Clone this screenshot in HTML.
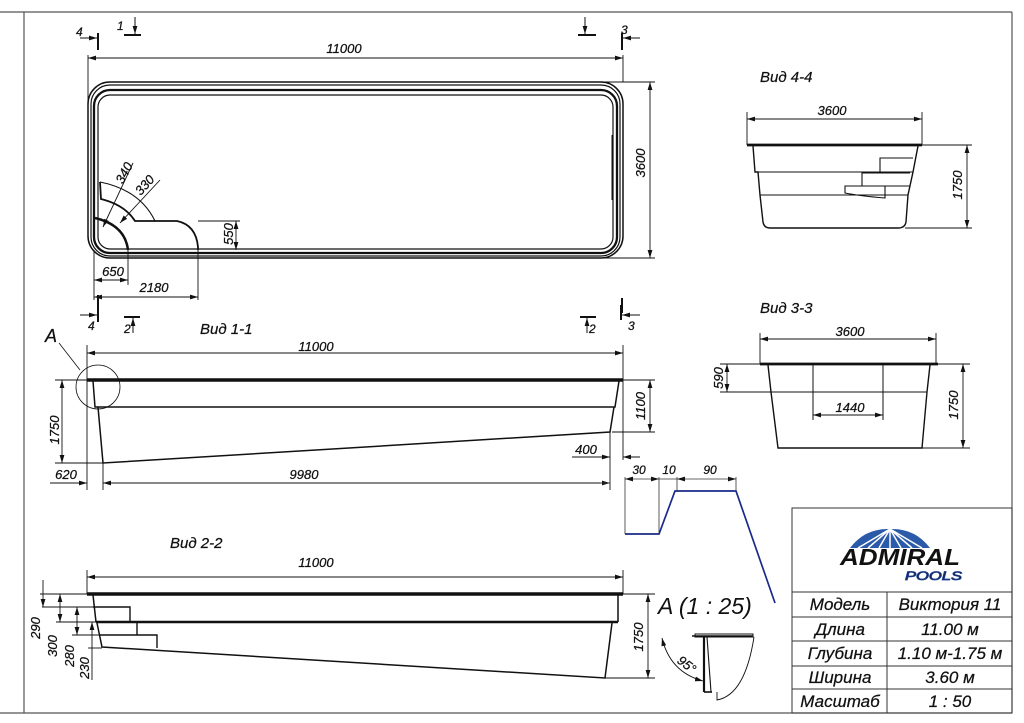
<!DOCTYPE html>
<html><head><meta charset="utf-8"><style>
html,body{margin:0;padding:0;background:#fff;}
svg{display:block;}
text{font-family:"Liberation Sans",sans-serif;font-style:italic;fill:#111;}
.d text{stroke:#111;stroke-width:0.25;}
</style></head><body>
<svg width="1024" height="723" viewBox="0 0 1024 723" xmlns="http://www.w3.org/2000/svg">
<defs>
<marker id="a" viewBox="0 0 10 6" refX="10" refY="3" markerWidth="8" markerHeight="5" orient="auto-start-reverse" markerUnits="userSpaceOnUse"><path d="M0,0L10,3L0,6z" fill="#111"/></marker>
</defs>
<rect x="0" y="0" width="1024" height="723" fill="#fff"/>
<g stroke="#555" stroke-width="1.2" fill="none">
<line x1="0" y1="12" x2="1012" y2="12"/>
<line x1="24" y1="12" x2="24" y2="713"/>
<line x1="1012" y1="12" x2="1012" y2="713"/>
<line x1="0" y1="713" x2="1012" y2="713"/>
</g>

<!-- ===== PLAN ===== -->
<g fill="none" stroke="#111">
<rect x="88" y="82" width="535" height="176" rx="22" stroke-width="1.5"/>
<rect x="91" y="85" width="529" height="171" rx="19" stroke-width="1.2"/>
<rect x="94" y="90" width="523" height="163" rx="16" stroke-width="2.3"/>
<rect x="98" y="95" width="515" height="154" rx="12" stroke-width="1.2"/>
<path d="M100,182 L101,199 Q125,205 135,221 L177,221 Q196,225 198,247 L198,250" stroke-width="1.8"/>
<path d="M100,182 Q140,190 155,221" stroke-width="1.1"/>
<path d="M95,218 Q125,225 128,250" stroke-width="2.5"/>
<line x1="612" y1="135" x2="612" y2="200" stroke-width="1"/>
</g>
<g stroke="#111" stroke-width="0.9" fill="none">
<line x1="88" y1="58" x2="623" y2="58" marker-start="url(#a)" marker-end="url(#a)"/>
<line x1="88" y1="55" x2="88" y2="150"/><line x1="623" y1="55" x2="623" y2="82"/>
<line x1="650" y1="82" x2="650" y2="258" marker-start="url(#a)" marker-end="url(#a)"/>
<line x1="600" y1="82" x2="655" y2="82"/><line x1="600" y1="258" x2="655" y2="258"/>
<line x1="103" y1="227" x2="133" y2="163" marker-start="url(#a)"/>
<line x1="120" y1="223" x2="160" y2="180" marker-start="url(#a)"/>
<line x1="198" y1="221" x2="240" y2="221"/>
<line x1="236" y1="221" x2="236" y2="250" marker-start="url(#a)" marker-end="url(#a)"/>
<line x1="94" y1="250" x2="94" y2="300"/><line x1="128" y1="250" x2="128" y2="285"/><line x1="198" y1="250" x2="198" y2="300"/>
<line x1="94" y1="280" x2="128" y2="280" marker-start="url(#a)" marker-end="url(#a)"/>
<line x1="94" y1="297" x2="198" y2="297" marker-start="url(#a)" marker-end="url(#a)"/>
</g>
<g class="d" font-size="13">
<text x="344" y="53" text-anchor="middle">11000</text>
<text transform="translate(645,163) rotate(-90)" text-anchor="middle">3600</text>
<text transform="translate(128,175) rotate(-62)" text-anchor="middle">340</text>
<text transform="translate(148,188) rotate(-48)" text-anchor="middle">330</text>
<text transform="translate(233,234) rotate(-90)" text-anchor="middle">550</text>
<text x="113" y="276" text-anchor="middle">650</text>
<text x="154" y="292" text-anchor="middle">2180</text>
</g>
<g stroke="#111" fill="none">
<line x1="98" y1="33" x2="98" y2="50" stroke-width="2"/>
<line x1="80" y1="38" x2="97" y2="38" stroke-width="1" marker-end="url(#a)"/>
<line x1="124" y1="35" x2="141" y2="35" stroke-width="2"/>
<line x1="135" y1="17" x2="135" y2="34" stroke-width="1" marker-end="url(#a)"/>
<line x1="578" y1="35" x2="596" y2="35" stroke-width="2"/>
<line x1="585" y1="17" x2="585" y2="34" stroke-width="1" marker-end="url(#a)"/>
<line x1="622" y1="33" x2="622" y2="50" stroke-width="2"/>
<line x1="640" y1="38" x2="623" y2="38" stroke-width="1" marker-end="url(#a)"/>
<line x1="98" y1="295" x2="98" y2="310" stroke-width="2"/>
<line x1="622" y1="298" x2="622" y2="313" stroke-width="2"/>
</g>
<g class="d" font-size="12"><text x="76" y="36">4</text><text x="117" y="30">1</text><text x="621" y="34">3</text></g>

<!-- ===== VID 1-1 ===== -->
<g stroke="#111" fill="none">
<line x1="98" y1="308" x2="98" y2="322" stroke-width="2"/>
<line x1="80" y1="315" x2="97" y2="315" stroke-width="1" marker-end="url(#a)"/>
<line x1="124" y1="317" x2="140" y2="317" stroke-width="2"/>
<line x1="133" y1="333" x2="133" y2="318" stroke-width="1" marker-end="url(#a)"/>
<line x1="580" y1="317" x2="596" y2="317" stroke-width="2"/>
<line x1="587" y1="333" x2="587" y2="318" stroke-width="1" marker-end="url(#a)"/>
<line x1="621" y1="305" x2="621" y2="320" stroke-width="2"/>
<line x1="640" y1="315" x2="622" y2="315" stroke-width="1" marker-end="url(#a)"/>
<line x1="87" y1="380" x2="623" y2="380" stroke-width="3.5"/>
<path d="M93,381 L95,407 L615,407 L619,381" stroke-width="1.5"/>
<path d="M98,407 L103,463 L610,432 L614,407" stroke-width="1.5"/>
<circle cx="98" cy="387" r="22" stroke-width="0.8"/>
<line x1="59" y1="343" x2="80" y2="370" stroke-width="0.8"/>
</g>
<g stroke="#111" stroke-width="0.9" fill="none">
<line x1="87" y1="345" x2="87" y2="490"/><line x1="623" y1="345" x2="623" y2="460"/>
<line x1="87" y1="353" x2="623" y2="353" marker-start="url(#a)" marker-end="url(#a)"/>
<line x1="620" y1="380" x2="655" y2="380"/><line x1="612" y1="432" x2="655" y2="432"/>
<line x1="650" y1="380" x2="650" y2="432" marker-start="url(#a)" marker-end="url(#a)"/>
<line x1="55" y1="380" x2="87" y2="380"/><line x1="55" y1="463" x2="103" y2="463"/>
<line x1="62" y1="380" x2="62" y2="463" marker-start="url(#a)" marker-end="url(#a)"/>
<line x1="103" y1="463" x2="103" y2="490"/><line x1="610" y1="432" x2="610" y2="490"/>
<line x1="103" y1="483" x2="610" y2="483" marker-start="url(#a)" marker-end="url(#a)"/>
<line x1="50" y1="483" x2="87" y2="483" marker-end="url(#a)"/>
<line x1="572" y1="457" x2="610" y2="457" marker-end="url(#a)"/>
<line x1="640" y1="457" x2="623" y2="457" marker-end="url(#a)"/>
</g>
<g class="d" font-size="13">
<text x="200" y="334" font-size="15">Вид 1-1</text>
<text x="45" y="342" font-size="18">A</text>
<text x="316" y="351" text-anchor="middle">11000</text>
<text transform="translate(645,406) rotate(-90)" text-anchor="middle">1100</text>
<text transform="translate(59,430) rotate(-90)" text-anchor="middle">1750</text>
<text x="586" y="454" text-anchor="middle">400</text>
<text x="304" y="479" text-anchor="middle">9980</text>
<text x="66" y="479" text-anchor="middle">620</text>
<text x="88" y="330" font-size="12">4</text><text x="124" y="333" font-size="12">2</text>
<text x="589" y="333" font-size="12">2</text><text x="628" y="330" font-size="12">3</text>
</g>

<!-- ===== VID 2-2 ===== -->
<g stroke="#111" fill="none">
<line x1="87" y1="594" x2="623" y2="594" stroke-width="3.5"/>
<path d="M93,595 L96,622" stroke-width="1.5"/>
<path d="M93,607 L130,607 L130,622" stroke-width="1.4"/>
<line x1="96" y1="622" x2="618" y2="622" stroke-width="2.5"/>
<path d="M618,595 L618,622" stroke-width="1.5"/>
<path d="M137,622 L137,635 M99,635 L157,635 L157,648" stroke-width="1.4"/>
<path d="M97,623 L102,647 L605,678 L612,623" stroke-width="1.5"/>
</g>
<g stroke="#111" stroke-width="0.9" fill="none">
<line x1="87" y1="570" x2="87" y2="594"/><line x1="623" y1="570" x2="623" y2="594"/>
<line x1="87" y1="577" x2="623" y2="577" marker-start="url(#a)" marker-end="url(#a)"/>
<line x1="620" y1="594" x2="655" y2="594"/><line x1="605" y1="678" x2="655" y2="678"/>
<line x1="648" y1="594" x2="648" y2="678" marker-start="url(#a)" marker-end="url(#a)"/>
<line x1="40" y1="594" x2="87" y2="594"/><line x1="42" y1="607" x2="93" y2="607"/>
<line x1="56" y1="622" x2="96" y2="622"/><line x1="72" y1="635" x2="99" y2="635"/><line x1="88" y1="648" x2="102" y2="648"/>
<line x1="43" y1="580" x2="43" y2="607" marker-end="url(#a)"/>
<line x1="60" y1="594" x2="60" y2="622" marker-start="url(#a)" marker-end="url(#a)"/>
<line x1="77" y1="607" x2="77" y2="635" marker-start="url(#a)" marker-end="url(#a)"/>
<line x1="92" y1="622" x2="92" y2="680" marker-start="url(#a)"/>
</g>
<g class="d" font-size="13">
<text x="170" y="548" font-size="15">Вид 2-2</text>
<text x="316" y="567" text-anchor="middle">11000</text>
<text transform="translate(643,637) rotate(-90)" text-anchor="middle">1750</text>
<text transform="translate(40,628) rotate(-90)" text-anchor="middle">290</text>
<text transform="translate(57,646) rotate(-90)" text-anchor="middle">300</text>
<text transform="translate(74,656) rotate(-90)" text-anchor="middle">280</text>
<text transform="translate(89,668) rotate(-90)" text-anchor="middle">230</text>
</g>

<!-- ===== VID 4-4 ===== -->
<g stroke="#111" fill="none">
<line x1="747" y1="145" x2="922" y2="145" stroke-width="2.8"/>
<path d="M753,146 L755,172 L758,172 L760,195 L763,222 Q764,228 770,228 L898,228 Q905,228 906,222 L908,195 L913,172 L918,146" stroke-width="1.4"/>
<line x1="755" y1="172" x2="913" y2="172" stroke-width="1.1"/>
<line x1="760" y1="195" x2="908" y2="195" stroke-width="1.1"/>
<path d="M913,158 L880,158 L880,172 M910,173 L862,173 L862,186 M910,186 L845,186 L845,193 Q860,196 885,198 L885,186" stroke-width="1.1"/>
</g>
<g stroke="#111" stroke-width="0.9" fill="none">
<line x1="747" y1="112" x2="747" y2="145"/><line x1="922" y1="112" x2="922" y2="145"/>
<line x1="747" y1="119" x2="922" y2="119" marker-start="url(#a)" marker-end="url(#a)"/>
<line x1="920" y1="145" x2="972" y2="145"/><line x1="905" y1="228" x2="972" y2="228"/>
<line x1="967" y1="145" x2="967" y2="228" marker-start="url(#a)" marker-end="url(#a)"/>
</g>
<g class="d" font-size="13">
<text x="760" y="82" font-size="15">Вид 4-4</text>
<text x="832" y="115" text-anchor="middle">3600</text>
<text transform="translate(962,185) rotate(-90)" text-anchor="middle">1750</text>
</g>

<!-- ===== VID 3-3 ===== -->
<g stroke="#111" fill="none">
<line x1="760" y1="364" x2="938" y2="364" stroke-width="2.8"/>
<path d="M768,365 L771,392 L778,448 L922,448 L927,392 L930,365" stroke-width="1.4"/>
<line x1="771" y1="392" x2="927" y2="392" stroke-width="1.1"/>
<path d="M813,365 L813,420 M883,365 L883,420" stroke-width="1"/>
</g>
<g stroke="#111" stroke-width="0.9" fill="none">
<line x1="760" y1="333" x2="760" y2="364"/><line x1="936" y1="333" x2="936" y2="364"/>
<line x1="760" y1="339" x2="936" y2="339" marker-start="url(#a)" marker-end="url(#a)"/>
<line x1="813" y1="415" x2="883" y2="415" marker-start="url(#a)" marker-end="url(#a)"/>
<line x1="720" y1="364" x2="768" y2="364"/><line x1="720" y1="392" x2="771" y2="392"/>
<line x1="727" y1="364" x2="727" y2="392" marker-start="url(#a)" marker-end="url(#a)"/>
<line x1="930" y1="364" x2="970" y2="364"/><line x1="922" y1="448" x2="970" y2="448"/>
<line x1="963" y1="364" x2="963" y2="448" marker-start="url(#a)" marker-end="url(#a)"/>
</g>
<g class="d" font-size="13">
<text x="760" y="313" font-size="15">Вид 3-3</text>
<text x="850" y="336" text-anchor="middle">3600</text>
<text x="850" y="412" text-anchor="middle">1440</text>
<text transform="translate(723,378) rotate(-90)" text-anchor="middle">590</text>
<text transform="translate(958,405) rotate(-90)" text-anchor="middle">1750</text>
</g>

<!-- ===== blue profile ===== -->
<polyline points="625,534 659,534 675,491 736,491 775,603" fill="none" stroke="#1a2a8a" stroke-width="1.7"/>
<g stroke="#333" stroke-width="0.8" fill="none">
<line x1="625" y1="477" x2="625" y2="534"/><line x1="659" y1="477" x2="659" y2="534"/>
<line x1="677" y1="477" x2="677" y2="491"/><line x1="736" y1="477" x2="736" y2="491"/>
<line x1="625" y1="479" x2="659" y2="479" marker-start="url(#a)" marker-end="url(#a)"/>
<line x1="659" y1="479" x2="677" y2="479"/>
<line x1="677" y1="479" x2="736" y2="479" marker-start="url(#a)" marker-end="url(#a)"/>
<line x1="600" y1="483" x2="610" y2="483"/><line x1="610" y1="460" x2="610" y2="485"/>
</g>
<g class="d" font-size="12"><text x="639" y="474" text-anchor="middle">30</text><text x="669" y="474" text-anchor="middle">10</text><text x="710" y="474" text-anchor="middle">90</text></g>

<!-- ===== detail A ===== -->
<text x="658" y="614" font-size="23" font-style="normal">A (1 : 25)</text>
<g stroke="#111" fill="none">
<rect x="695" y="634" width="58" height="3" stroke-width="1"/>
<line x1="692" y1="636" x2="753" y2="636" stroke-width="1.6"/>
<line x1="704" y1="637" x2="704" y2="692" stroke-width="2.2"/>
<line x1="707" y1="637" x2="711" y2="692" stroke-width="1.1"/>
<line x1="704" y1="692" x2="712" y2="692" stroke-width="1.6"/>
<path d="M717,692 L717,700 Q745,695 754,637" stroke-width="0.9"/>
<path d="M662,638 Q670,672 703,681" stroke-width="0.9" marker-start="url(#a)" marker-end="url(#a)"/>
</g>
<g class="d"><text transform="translate(684,668) rotate(38)" font-size="13" text-anchor="middle">95°</text></g>

<!-- ===== title block ===== -->
<g stroke="#333" stroke-width="1" fill="none">
<rect x="792" y="508" width="220" height="205"/>
<line x1="792" y1="592" x2="1012" y2="592"/>
<line x1="792" y1="617" x2="1012" y2="617"/>
<line x1="792" y1="641" x2="1012" y2="641"/>
<line x1="792" y1="666" x2="1012" y2="666"/>
<line x1="792" y1="689" x2="1012" y2="689"/>
<line x1="887" y1="592" x2="887" y2="713"/>
</g>
<g>
<path d="M850,548 Q865,528 890,529 Q915,528 930,548 Z" fill="#2a5aa8"/>
<g stroke="#fff" stroke-width="1.5">
<line x1="890" y1="529" x2="858" y2="548"/><line x1="890" y1="529" x2="868" y2="548"/>
<line x1="890" y1="529" x2="879" y2="548"/><line x1="890" y1="529" x2="890" y2="548"/>
<line x1="890" y1="529" x2="901" y2="548"/><line x1="890" y1="529" x2="912" y2="548"/>
<line x1="890" y1="529" x2="922" y2="548"/>
</g>
<text x="840" y="565" font-size="23" font-weight="bold" font-style="normal" fill="#17285e" textLength="120" lengthAdjust="spacingAndGlyphs">ADMIRAL</text>
<text x="905" y="580" font-size="12" fill="none" stroke="#1a3a8a" stroke-width="0.8" textLength="57" lengthAdjust="spacingAndGlyphs">POOLS</text>
</g>
<g class="d" font-size="17" text-anchor="middle">
<text x="840" y="610">Модель</text><text x="950" y="610">Виктория 11</text>
<text x="840" y="635">Длина</text><text x="950" y="635">11.00 м</text>
<text x="840" y="659">Глубина</text><text x="950" y="659">1.10 м-1.75 м</text>
<text x="840" y="683">Ширина</text><text x="950" y="683">3.60 м</text>
<text x="840" y="707">Масштаб</text><text x="950" y="707">1 : 50</text>
</g>
</svg>
</body></html>
